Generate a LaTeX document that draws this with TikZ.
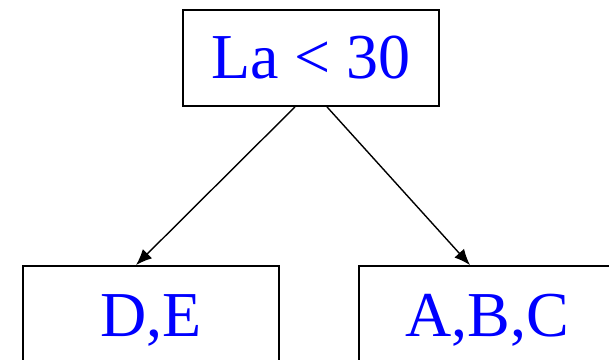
\documentclass[tikz,border=0pt]{standalone}
\usepackage{fontspec}
\setmainfont{Liberation Serif}
\usetikzlibrary{arrows.meta}
\begin{document}
\begin{tikzpicture}[x=1bp,y=-1bp,
  box/.style={draw=black,line width=1.8bp,minimum width=256bp,minimum height=96bp,inner sep=0pt,
    text=blue,font=\fontsize{64bp}{70bp}\selectfont},
  arr/.style={line width=1.4bp,-{Latex[length=16bp,width=13bp]}}]
\useasboundingbox (0,0) rectangle (609,359);
\node[box] (top) at (311,58) {La < 30};
\node[box,text depth=0pt] (left) at (151,314) {\raisebox{-3bp}{D,E}};
\node[box,text depth=0pt] (right) at (487,314) {\raisebox{-3bp}{A,B,C}};
\draw[arr] ([xshift=-16bp]top.south) -- ([xshift=-15bp]left.north);
\draw[arr] ([xshift=16bp]top.south) -- ([xshift=-17bp]right.north);
\end{tikzpicture}
\end{document}
